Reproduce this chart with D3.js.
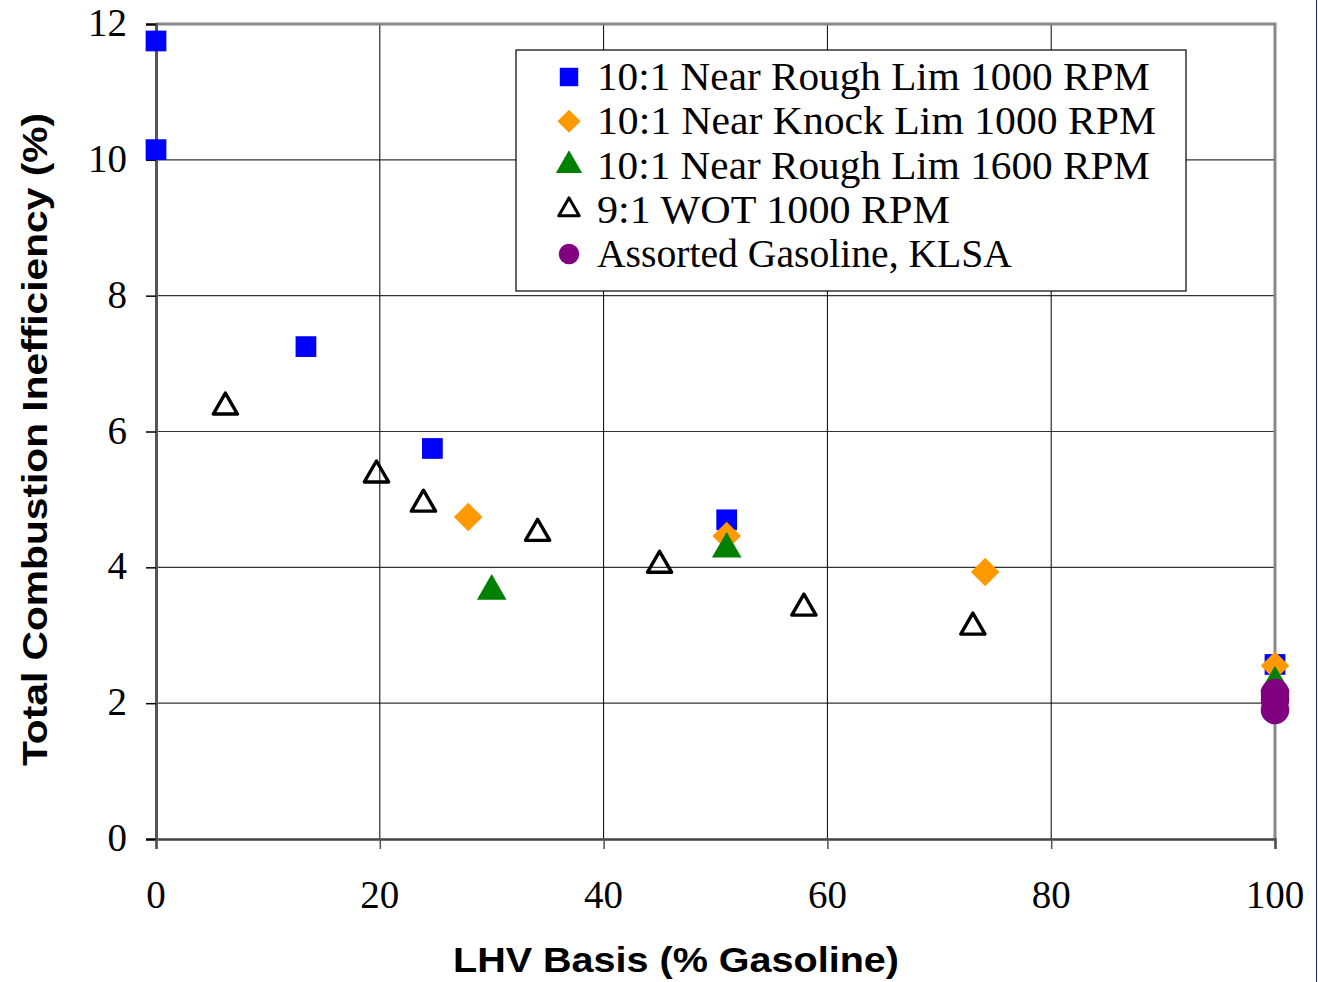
<!DOCTYPE html>
<html>
<head>
<meta charset="utf-8">
<script src="https://cdn.jsdelivr.net/npm/d3@7"></script>
<style>
  body { margin: 0; background: #fff; }
  svg { display: block; }
  .tick-label { font-family: "Liberation Serif", "Times New Roman", Times, serif; font-size: 39px; fill: #000; }
  .legend-label { font-family: "Liberation Serif", "Times New Roman", Times, serif; font-size: 39px; fill: #000; }
  .axis-title { font-family: "Liberation Sans", Arial, sans-serif; font-size: 35px; font-weight: bold; fill: #000; }
</style>
</head>
<body>
<div id="app"></div>
<script>
const d3 = window.d3;

// series data: [% gasoline (LHV basis), total combustion inefficiency %]
const roughLim1000 = [[0, 11.75], [0, 10.15], [13.4, 7.25], [24.7, 5.75], [51, 4.7], [100, 2.57]];
const knockLim1000 = [[27.9, 4.74], [51, 4.46], [74.1, 3.93], [100, 2.55]];
const roughLim1600 = [[30, 3.65], [51, 4.27], [100, 2.3]];
const wot1000 = [[6.2, 6.36], [19.7, 5.36], [23.9, 4.93], [34.1, 4.5], [45, 4.03], [57.9, 3.4], [73, 3.12]];
const assortedGasoline = [[100, 2.15], [100, 2.05], [100, 1.9]];

const xTicks = [0, 20, 40, 60, 80, 100];
const yTicks = [0, 2, 4, 6, 8, 10, 12];

const legendLabels = [
  "10:1 Near Rough Lim 1000 RPM",
  "10:1 Near Knock Lim 1000 RPM",
  "10:1 Near Rough Lim 1600 RPM",
  "9:1 WOT 1000 RPM",
  "Assorted Gasoline, KLSA",
];

const screen = { width: 1318, height: 982 };
const plot = { left: 156, right: 1275, top: 24, bottom: 839 };

const scales = {
  x: d3.scaleLinear().domain([0, 100]).range([plot.left, plot.right]),
  y: d3.scaleLinear().domain([0, 12]).range([plot.bottom, plot.top]),
};

const series = [
  { data: roughLim1000, symbol: d3.symbolSquare, size: 430, legendSize: 340, fill: "#0000ff", stroke: "none" },
  { data: knockLim1000, symbol: d3.symbolDiamond2, size: 520, legendSize: 340, fill: "#ff9900", stroke: "none" },
  { data: roughLim1600, symbol: d3.symbolTriangle, size: 380, legendSize: 300, fill: "#008000", stroke: "none" },
  { data: wot1000, symbol: d3.symbolTriangle2, size: 420, legendSize: 300, fill: "none", stroke: "#000", sw: 3.4 },
  { data: assortedGasoline, symbol: d3.symbolCircle, size: 640, legendSize: 330, fill: "#800080", stroke: "none" },
];

const svg = d3
  .select("#app")
  .append("svg")
  .attr("width", screen.width)
  .attr("height", screen.height);

// gridlines
svg
  .append("g")
  .selectAll("line")
  .data(yTicks.filter((d) => d > 0 && d < 12))
  .enter()
  .append("line")
  .attr("x1", plot.left)
  .attr("x2", plot.right)
  .attr("y1", (d) => scales.y(d))
  .attr("y2", (d) => scales.y(d))
  .attr("stroke", "#333")
  .attr("stroke-width", 1.2);

svg
  .append("g")
  .selectAll("line")
  .data(xTicks.filter((d) => d > 0 && d < 100))
  .enter()
  .append("line")
  .attr("x1", (d) => scales.x(d))
  .attr("x2", (d) => scales.x(d))
  .attr("y1", plot.top)
  .attr("y2", plot.bottom)
  .attr("stroke", "#000")
  .attr("stroke-width", 1);

// plot frame: top and right grey
svg
  .append("path")
  .attr("d", `M${plot.left},${plot.top}H${plot.right}V${plot.bottom}`)
  .attr("fill", "none")
  .attr("stroke", "#888")
  .attr("stroke-width", 3);

// axes
const xAxis = d3.axisBottom(scales.x).tickValues(xTicks).tickSize(10).tickFormat("");
const yAxis = d3.axisLeft(scales.y).tickValues(yTicks).tickSize(10).tickFormat("");

const gx = svg.append("g").attr("transform", `translate(0,${plot.bottom})`).call(xAxis);
gx.select(".domain").attr("stroke", "#444").attr("stroke-width", 2.5);
gx.selectAll(".tick line").attr("stroke", "#555").attr("stroke-width", 1.5);

const gy = svg.append("g").attr("transform", `translate(${plot.left},0)`).call(yAxis);
gy.select(".domain").attr("stroke", "#555").attr("stroke-width", 3);
gy.selectAll(".tick line").attr("stroke", "#000").attr("stroke-width", 1.5);

// tick labels
svg
  .append("g")
  .selectAll("text")
  .data(xTicks)
  .enter()
  .append("text")
  .attr("class", "tick-label")
  .attr("x", (d) => scales.x(d))
  .attr("y", 908)
  .attr("text-anchor", "middle")
  .text((d) => d);

svg
  .append("g")
  .selectAll("text")
  .data(yTicks)
  .enter()
  .append("text")
  .attr("class", "tick-label")
  .attr("x", 127)
  .attr("y", (d) => scales.y(d) + 12)
  .attr("text-anchor", "end")
  .text((d) => d);

// points
series.forEach((s) => {
  svg
    .append("g")
    .selectAll("path")
    .data(s.data)
    .enter()
    .append("path")
    .attr("transform", (d) => `translate(${scales.x(d[0])},${scales.y(d[1])})`)
    .attr("d", d3.symbol(s.symbol, s.size))
    .attr("fill", s.fill)
    .attr("stroke", s.stroke)
    .attr("stroke-width", s.sw || 0)
    .attr("stroke-linejoin", "round");
});

// legend
const legendBox = { x: 516, y: 50, w: 670, h: 241 };
const legend = svg.append("g").attr("transform", `translate(${legendBox.x},${legendBox.y})`);
legend
  .append("rect")
  .attr("width", legendBox.w)
  .attr("height", legendBox.h)
  .attr("fill", "#fff")
  .attr("stroke", "#000")
  .attr("stroke-width", 1.2);

const legendWidths = [553, 559, 553, 353, 415];
const rowY = d3.scalePoint().domain(d3.range(legendLabels.length)).range([27, 204]);

legendLabels.forEach((label, i) => {
  const s = series[i];
  legend
    .append("path")
    .attr("transform", `translate(53,${rowY(i)})`)
    .attr("d", d3.symbol(s.symbol, s.legendSize))
    .attr("fill", s.fill)
    .attr("stroke", s.stroke)
    .attr("stroke-width", s.sw ? 3 : 0)
    .attr("stroke-linejoin", "round");
  legend
    .append("text")
    .attr("class", "legend-label")
    .attr("x", 81)
    .attr("y", rowY(i) + 13)
    .attr("textLength", legendWidths[i])
    .attr("lengthAdjust", "spacingAndGlyphs")
    .text(label);
});

// axis titles
svg
  .append("text")
  .attr("class", "axis-title")
  .attr("x", 453)
  .attr("y", 972)
  .attr("textLength", 446)
  .attr("lengthAdjust", "spacingAndGlyphs")
  .text("LHV Basis (% Gasoline)");

svg
  .append("text")
  .attr("class", "axis-title")
  .attr("transform", "translate(47,766) rotate(-90)")
  .attr("textLength", 653)
  .attr("lengthAdjust", "spacingAndGlyphs")
  .text("Total Combustion Inefficiency (%)");

// thin frame edge on the right
svg
  .append("line")
  .attr("x1", 1316.5)
  .attr("x2", 1316.5)
  .attr("y1", 0)
  .attr("y2", screen.height)
  .attr("stroke", "#1a2a80")
  .attr("stroke-width", 1);
</script>
</body>
</html>
